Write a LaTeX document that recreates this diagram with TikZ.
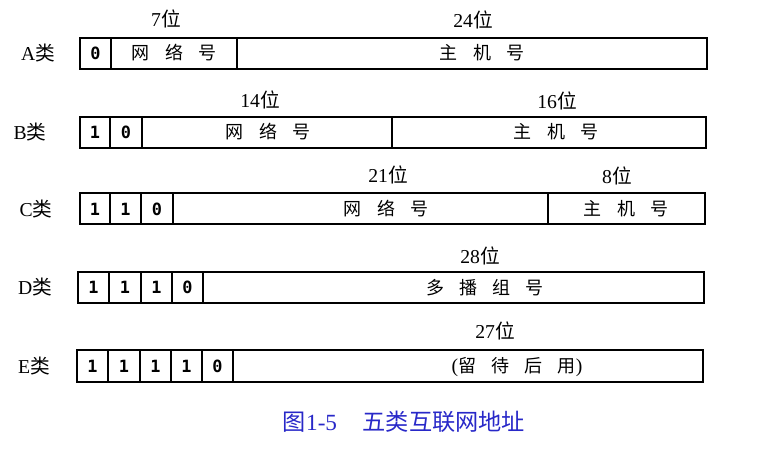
\documentclass[tikz,border=0pt]{standalone}
\usepackage{fontspec}
\setmainfont{Liberation Serif}
\newfontfamily\cjk{Noto Sans CJK SC}
\newfontfamily\bitfont{DejaVu Sans Mono}
\usetikzlibrary{positioning}
\definecolor{capblue}{RGB}{40,40,200}
\newcommand{\gp}{\hspace{0.85em}}

\begin{document}
\begin{tikzpicture}[x=0.025cm,y=-0.025cm,line width=1.1pt,
  bit/.style={font=\bitfont\bfseries\fontsize{12}{13}\selectfont},
  field/.style={font=\cjk\fontsize{12.8}{14}\selectfont},
  width/.style={font=\fontsize{14}{16}\selectfont},
  cls/.style={font=\fontsize{14}{16}\selectfont}]
\useasboundingbox (0,0) rectangle (782,459);
% A
\draw (80,38) rectangle (707,69);
\draw (111,38) -- (111,69);
\draw (237,38) -- (237,69);
\node[cls] (clsA) at (38,53) {A{\cjk 类}};
\node[bit] (a1) at (95.5,53) {0};
\node[field] (netA) at (174,53) {网\gp 络\gp 号};
\node[field] (hostA) at (482,53) {主\gp 机\gp 号};
\node[width] (wA1) at (166,19) {7{\cjk 位}};
\node[width] (wA2) at (473,20) {24{\cjk 位}};
% B
\draw (80,117) rectangle (706,148);
\draw (110,117) -- (110,148);
\draw (142,117) -- (142,148);
\draw (392,117) -- (392,148);
\node[cls] (clsB) at (30,132) {B{\cjk 类}};
\node[bit] (b1) at (95,132) {1};
\node[bit] (b2) at (126,132) {0};
\node[field] (netB) at (268,132) {网\gp 络\gp 号};
\node[field] (hostB) at (556,132) {主\gp 机\gp 号};
\node[width] (wB1) at (260,100) {14{\cjk 位}};
\node[width] (wB2) at (557,101) {16{\cjk 位}};
% C
\draw (80,193) rectangle (705,224);
\draw (110,193) -- (110,224);
\draw (141,193) -- (141,224);
\draw (173,193) -- (173,224);
\draw (548,193) -- (548,224);
\node[cls] (clsC) at (36,209) {C{\cjk 类}};
\node[bit] (c1) at (95,209) {1};
\node[bit] (c2) at (125.5,209) {1};
\node[bit] (c3) at (157,209) {0};
\node[field] (netC) at (386,209) {网\gp 络\gp 号};
\node[field] (hostC) at (626,209) {主\gp 机\gp 号};
\node[width] (wC1) at (388,175) {21{\cjk 位}};
\node[width] (wC2) at (617,176) {8{\cjk 位}};
% D
\draw (78,272) rectangle (704,303);
\draw (109,272) -- (109,303);
\draw (141,272) -- (141,303);
\draw (172,272) -- (172,303);
\draw (203,272) -- (203,303);
\node[cls] (clsD) at (35,287) {D{\cjk 类}};
\node[bit] (d1) at (93.5,287) {1};
\node[bit] (d2) at (125,287) {1};
\node[bit] (d3) at (156.5,287) {1};
\node[bit] (d4) at (187.5,287) {0};
\node[field] (mcD) at (485,288) {多\gp 播\gp 组\gp 号};
\node[width] (wD) at (480,256) {28{\cjk 位}};
% E
\draw (77,350) rectangle (703,382);
\draw (108,350) -- (108,382);
\draw (140,350) -- (140,382);
\draw (171,350) -- (171,382);
\draw (202,350) -- (202,382);
\draw (233,350) -- (233,382);
\node[cls] (clsE) at (34,366) {E{\cjk 类}};
\node[bit] (e1) at (92.5,366) {1};
\node[bit] (e2) at (124,366) {1};
\node[bit] (e3) at (155.5,366) {1};
\node[bit] (e4) at (186.5,366) {1};
\node[bit] (e5) at (217.5,366) {0};
\node[width] (resE) at (517,367) {({\cjk\fontsize{12.8}{14}\selectfont 留\gp 待\gp 后\gp 用})};
\node[width] (wE) at (495,331) {27{\cjk 位}};
% caption
\node[font=\fontsize{16.5}{18}\selectfont,text=capblue] (cap) at (404,422) {{\cjk 图}1-5\hspace{1.1em}{\cjk 五类互联网地址}};
\end{tikzpicture}
\end{document}
